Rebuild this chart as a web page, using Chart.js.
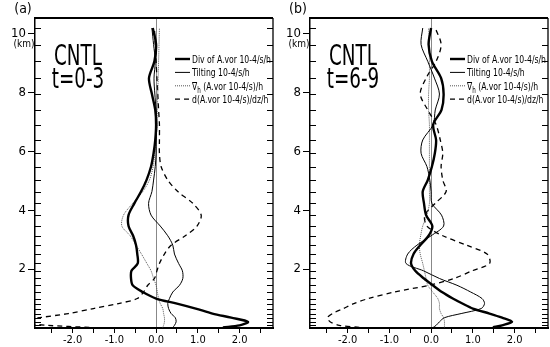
<!DOCTYPE html>
<html>
<head>
<meta charset="utf-8">
<script src="https://cdn.jsdelivr.net/npm/chart.js@4.4.1/dist/chart.umd.min.js"></script>
<style>
  body { margin: 0; background: #fff; }
  .panel { position: absolute; top: 0; width: 275px; height: 347px; }
</style>
</head>
<body>
<div class="panel" style="left:0"><canvas id="chartA" width="275" height="347"></canvas></div>
<div class="panel" style="left:275px"><canvas id="chartB" width="275" height="347"></canvas></div>
<script>
// model levels (km) where the profiles are given
const levels = [0.02, 0.09, 0.21, 0.35, 0.49, 0.66, 0.83, 1.0, 1.22, 1.45, 1.68, 1.94, 2.19, 2.51, 2.81,
  3.13, 3.46, 3.83, 4.23, 4.63, 5.02, 5.48, 5.93, 6.38, 6.9, 7.4, 7.94, 8.48, 9.05, 9.62, 10.18];

// (a) CNTL t=0-3
const divA  = [1.6, 2.0, 2.2, 1.8, 1.35, 0.95, 0.5, 0.0, -0.32, -0.56, -0.6, -0.59, -0.44, -0.45, -0.48,
  -0.55, -0.66, -0.66, -0.52, -0.36, -0.23, -0.12, -0.06, -0.02, 0.0, -0.02, -0.1, -0.17, -0.04, 0.0, -0.08];
const tiltA = [0.4, 0.44, 0.48, 0.46, 0.36, 0.3, 0.28, 0.32, 0.4, 0.56, 0.64, 0.63, 0.54, 0.44, 0.4,
  0.28, 0.1, -0.12, -0.18, -0.1, -0.06, -0.02, 0.0, 0.0, 0.02, 0.0, -0.03, -0.05, -0.02, -0.06, -0.1];
const gradA = [0.16, 0.18, 0.2, 0.2, 0.18, 0.16, 0.1, 0.06, 0.03, 0.0, -0.06, -0.12, -0.22, -0.35, -0.48,
  -0.62, -0.82, -0.78, -0.56, -0.32, -0.16, -0.07, -0.03, 0.0, 0.02, 0.03, 0.04, 0.05, 0.06, 0.07, 0.08];
const dzA   = [-1.6, -2.6, -3.4, -2.8, -2.1, -1.5, -0.9, -0.45, -0.3, -0.2, -0.04, 0.02, 0.08, 0.2, 0.36,
  0.7, 0.98, 1.08, 0.88, 0.52, 0.28, 0.12, 0.08, 0.08, 0.08, 0.06, 0.04, 0.02, 0.0, -0.02, -0.04];

// (b) CNTL t=6-9
const divB  = [1.48, 1.7, 1.94, 1.7, 1.4, 1.0, 0.75, 0.52, 0.26, 0.04, -0.17, -0.38, -0.48, -0.42, -0.26,
  -0.06, 0.03, -0.12, -0.17, -0.2, -0.08, 0.02, 0.09, 0.12, 0.05, 0.25, 0.3, 0.24, 0.02, -0.06, 0.0];
const tiltB = [0.05, 0.12, 0.2, 0.32, 0.72, 1.2, 1.28, 1.22, 0.95, 0.62, 0.2, -0.18, -0.6, -0.56, -0.34,
  0.0, 0.3, 0.25, 0.02, 0.0, -0.03, -0.1, -0.24, -0.2, 0.05, 0.1, 0.2, 0.08, -0.08, -0.24, -0.2];
const gradB = [0.32, 0.32, 0.32, 0.3, 0.24, 0.2, 0.2, 0.16, 0.04, -0.08, -0.12, -0.16, -0.2, -0.26, -0.28,
  -0.25, -0.2, -0.1, -0.04, -0.04, -0.04, -0.04, -0.04, -0.04, -0.04, -0.06, -0.06, -0.04, -0.04, -0.04, -0.06];
const dzB   = [-1.72, -2.2, -2.42, -2.48, -2.36, -2.1, -1.85, -1.5, -0.88, -0.05, 0.55, 0.98, 1.4, 1.34, 0.85,
  0.28, -0.1, -0.15, 0.1, 0.36, 0.28, 0.24, 0.28, 0.22, 0.12, -0.08, -0.26, -0.12, 0.12, 0.24, 0.1];

const seriesLabels = ['Div of A.vor 10-4/s/h', 'Tilting 10-4/s/h', '∇_h (A.vor 10-4/s)/h', 'd(A.vor 10-4/s)/dz/h'];
const xTicks = [-2.5, -2, -1.5, -1, -0.5, 0, 0.5, 1, 1.5, 2, 2.5];
const yTicks = [2, 4, 6, 8, 10];

const NARROW = "'Liberation Sans Narrow', 'Arial Narrow', 'DejaVu Sans Condensed', sans-serif";
Chart.defaults.font.family = NARROW;
Chart.defaults.color = '#000';

// draws the frame, inner level ticks, panel texts and the legend
const decor = {
  id: 'decor',
  afterDraw(chart, args, opts) {
    const { ctx, chartArea: a } = chart;
    const y = chart.scales.y;
    ctx.save();
    ctx.strokeStyle = '#000';
    ctx.lineWidth = 2;
    ctx.beginPath();
    ctx.moveTo(a.left, a.top); ctx.lineTo(a.right, a.top);
    ctx.stroke();
    ctx.lineWidth = 1.3;
    ctx.beginPath();
    ctx.moveTo(a.right, a.top); ctx.lineTo(a.right, a.bottom);
    ctx.stroke();

    ctx.lineWidth = 1;
    ctx.beginPath();
    levels.slice(1).forEach(z => {
      const py = Math.round(y.getPixelForValue(z)) + 0.5;
      ctx.moveTo(a.left, py); ctx.lineTo(a.left + 6, py);
      ctx.moveTo(a.right - 6, py); ctx.lineTo(a.right, py);
    });
    ctx.stroke();

    ctx.fillStyle = '#000';
    ctx.textAlign = 'center';
    ctx.textBaseline = 'alphabetic';
    ctx.font = '10px ' + NARROW;
    ctx.fillText('(km)', a.left - 11, y.getPixelForValue(10) + 14);
    ctx.font = '14px ' + NARROW;
    ctx.fillText(opts.tag, a.left - 12, a.top - 5);

    // big panel title
    ctx.font = '28px ' + NARROW;
    const sx = 48 / ctx.measureText('CNTL').width;
    ctx.save();
    ctx.translate(a.left + 43, 0);
    ctx.scale(sx, 1);
    ctx.fillText('CNTL', 0, a.top + 47);
    ctx.fillText(opts.time, 0, a.top + 70);
    ctx.restore();

    // legend
    ctx.font = '11px ' + NARROW;
    const plain = seriesLabels[0];
    const lx = 79 / ctx.measureText(plain).width;
    chart.data.datasets.forEach((ds, i) => {
      const cy = a.top + 41 + i * 13.4;
      ctx.save();
      ctx.strokeStyle = ds.borderColor;
      ctx.lineWidth = ds.borderWidth;
      ctx.setLineDash(ds.borderDash || []);
      ctx.beginPath();
      ctx.moveTo(a.left + 140, cy); ctx.lineTo(a.left + 155, cy);
      ctx.stroke();
      ctx.restore();
      ctx.save();
      ctx.translate(a.left + 157, cy + 4);
      ctx.scale(lx, 1);
      ctx.textAlign = 'left';
      const parts = ds.label.split('_h');
      let px = 0;
      ctx.fillText(parts[0], px, 0);
      px += ctx.measureText(parts[0]).width;
      if (parts.length > 1) {
        ctx.font = '8px ' + NARROW;
        ctx.fillText('h', px, 3);
        px += ctx.measureText('h').width;
        ctx.font = '11px ' + NARROW;
        ctx.fillText(parts[1], px, 0);
      }
      ctx.restore();
    });
    ctx.restore();
  }
};

function makePanel(id, div, tilt, grad, dz, tag, time) {
  const pts = arr => levels.map((z, i) => ({ x: arr[i], y: z }));
  const base = { pointRadius: 0, tension: 0.3, fill: false };
  new Chart(document.getElementById(id), {
    type: 'line',
    data: {
      datasets: [
        { ...base, label: seriesLabels[0], data: pts(div), borderColor: '#000', borderWidth: 2.4 },
        { ...base, label: seriesLabels[1], data: pts(tilt), borderColor: '#000', borderWidth: 1 },
        { ...base, label: seriesLabels[2], data: pts(grad), borderColor: '#555', borderWidth: 1, borderDash: [1, 1] },
        { ...base, label: seriesLabels[3], data: pts(dz), borderColor: '#000', borderWidth: 1.3, borderDash: [5, 4] }
      ]
    },
    options: {
      responsive: false,
      animation: false,
      devicePixelRatio: 1,
      layout: { padding: { top: 18, right: 2, left: 0, bottom: 0 } },
      plugins: { legend: { display: false }, tooltip: { enabled: false }, decor: { tag: tag, time: time } },
      scales: {
        x: {
          type: 'linear', min: -2.9, max: 2.8,
          afterBuildTicks: s => { s.ticks = xTicks.map(v => ({ value: v })); },
          afterFit: s => { s.height = 19; },
          ticks: {
            autoSkip: false, maxRotation: 0, padding: 1,
            font: { size: 11 },
            callback: v => Number.isInteger(v) ? v.toFixed(1) : ''
          },
          grid: {
            color: c => (c.tick && c.tick.value === 0) ? '#888' : 'rgba(0,0,0,0)',
            tickColor: '#000', tickLength: 5, lineWidth: 1
          },
          border: { color: '#000', width: 2 }
        },
        y: {
          type: 'linear', min: 0, max: 10.52,
          afterBuildTicks: s => { s.ticks = yTicks.map(v => ({ value: v })); },
          afterFit: s => { s.width = 35; },
          ticks: { padding: 2, font: { size: 13 } },
          grid: { drawOnChartArea: false, tickColor: '#000', tickLength: 7 },
          border: { color: '#000', width: 1.5 }
        }
      }
    },
    plugins: [decor]
  });
}

makePanel('chartA', divA, tiltA, gradA, dzA, '(a)', 't=0-3');
makePanel('chartB', divB, tiltB, gradB, dzB, '(b)', 't=6-9');
</script>
</body>
</html>
